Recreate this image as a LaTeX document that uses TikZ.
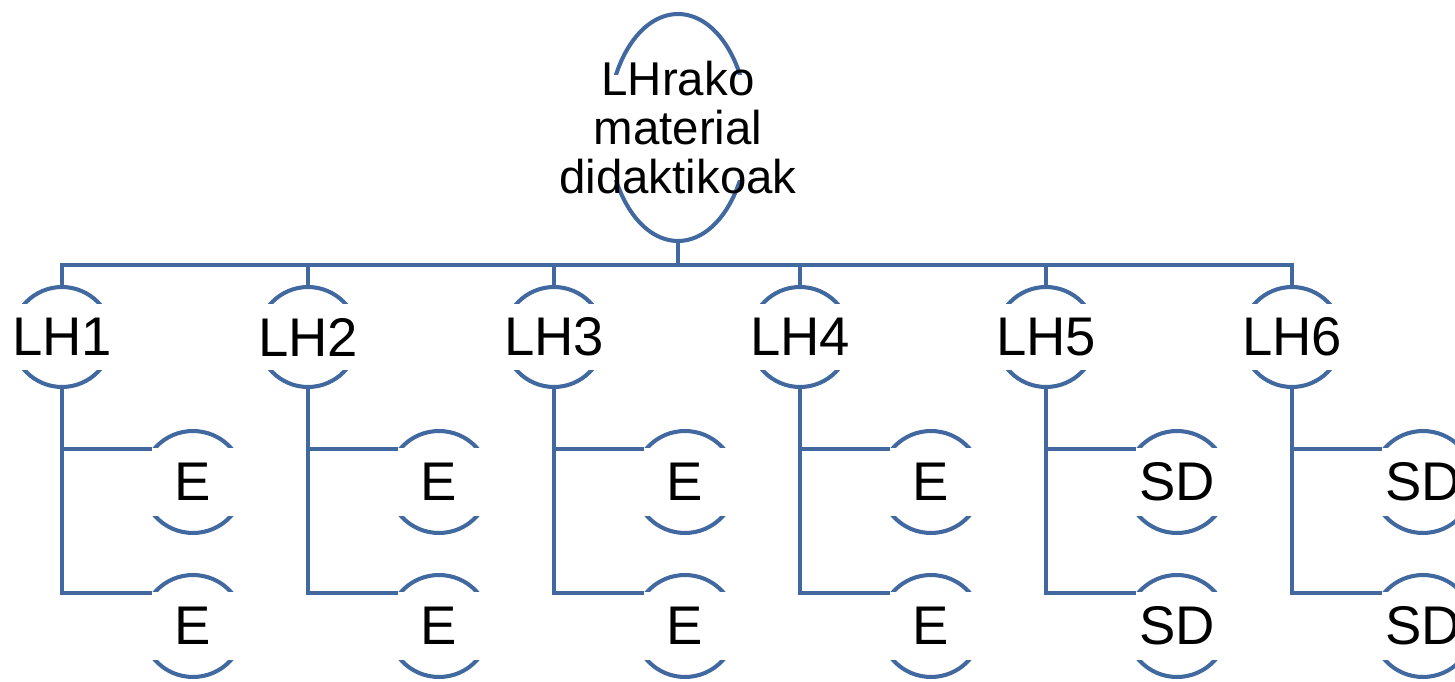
\documentclass[tikz,border=0pt]{standalone}
\usepackage{fontspec}
\setmainfont{Liberation Sans}
\usetikzlibrary{shapes.geometric}
\definecolor{treeblue}{RGB}{65,105,160}
\tikzset{
  ring/.style={circle, draw=treeblue, line width=2.3pt, minimum size=2cm, inner sep=0pt},
  leafring/.style={ring, minimum size=2.04cm},
  gap/.style={fill=white, inner sep=0pt, minimum width=2.3cm, minimum height=1.34cm,
    font=\fontsize{31}{36}\selectfont},
  leafgap/.style={gap, minimum height=1.38cm},
  branch/.style={draw=treeblue, line width=2.3pt},
}
\begin{document}
\begin{tikzpicture}[x=0.02cm, y=-0.02cm]
    \useasboundingbox (0,0) rectangle (1455,682);

    % top node
    \node[ellipse, draw=treeblue, line width=2.3pt, minimum width=2.8cm, minimum height=4.54cm, inner sep=0pt] (root) at (678,127.5) {};
    \node[fill=white, inner sep=0pt, minimum width=3.2cm, minimum height=2.1cm] (root-gap) at (root) {};
    \node[align=center, inner sep=0pt, font=\fontsize{27}{28}\selectfont] (root-txt) at (root) {LHrako\\material\\didaktikoak};
    \coordinate (bus) at (678,265);
    \draw[branch] (root.south) -- (bus);

    \foreach \i/\x/\kind in {1/62/E, 2/308/E, 3/554/E, 4/800/E, 5/1046/SD, 6/1292/SD} {
        \node[ring] (lh\i) at (\x,337) {};
        \node[gap] (lh\i-txt) at (lh\i) {\makebox[0pt]{LH\i}};

        \node[leafring] (lh\i-a) at (\x+131,482) {};
        \node[leafgap] (lh\i-atxt) at (lh\i-a) {\makebox[0pt]{\kind}};
        \node[leafring] (lh\i-b) at (\x+131,626) {};
        \node[leafgap] (lh\i-btxt) at (lh\i-b) {\makebox[0pt]{\kind}};

        \draw[branch] (lh\i.north) |- (bus);
        \draw[branch] (lh\i.south) |- (lh\i-a.141);
        \draw[branch] (lh\i.south) |- (lh\i-b.141);
    }

\end{tikzpicture}
\end{document}
